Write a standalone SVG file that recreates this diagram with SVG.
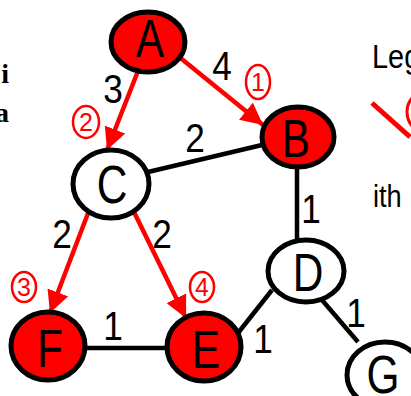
<svg xmlns="http://www.w3.org/2000/svg" width="411" height="396" viewBox="0 0 411 396">
<defs>
<style>
.node{stroke:#000;stroke-width:5}
.red{fill:#ff0000}
.white{fill:#fff}
.lbl{font-family:"Liberation Sans",Arial,sans-serif;font-size:53px;fill:#000;text-anchor:middle}
.w{font-family:"Liberation Sans",Arial,sans-serif;font-size:40px;fill:#000;text-anchor:middle}
.cn{font-family:"Liberation Sans",Arial,sans-serif;font-size:25px;fill:#ff0000;text-anchor:middle}
.ce{fill:#fff;stroke:#ff0000;stroke-width:2.5}
.er{stroke:#ff0000;stroke-width:4.5;fill:none}
.eb{stroke:#000;stroke-width:4.5;fill:none}
.side{font-family:"Liberation Serif","Times New Roman",serif;font-weight:bold;font-size:28px;fill:#000;text-anchor:end}
</style>
<marker id="ah" viewBox="0 0 20 20" refX="20" refY="10" markerWidth="22" markerHeight="22" markerUnits="userSpaceOnUse" orient="auto">
<path d="M0,0 L20,10 L0,20 z" fill="#ff0000"/>
</marker>
</defs>
<rect width="411" height="396" fill="#fff"/>
<g id="side-text">
<text class="side" x="9" y="83">i</text>
<text class="side" x="9" y="122">a</text>
</g>
<g id="connectors">
<line class="eb" x1="148" y1="172" x2="262" y2="145"/>
<line class="eb" x1="297" y1="167" x2="297" y2="240"/>
<line class="eb" x1="272" y1="290" x2="238" y2="333"/>
<line class="eb" x1="322" y1="300" x2="358" y2="342"/>
<line class="eb" x1="85" y1="348" x2="167" y2="348"/>
<line class="er" x1="138" y1="71" x2="107" y2="150" marker-end="url(#ah)"/>
<line class="er" x1="178" y1="56" x2="263" y2="125" marker-end="url(#ah)"/>
<line class="er" x1="90" y1="208" x2="50" y2="313" marker-end="url(#ah)"/>
<line class="er" x1="133" y1="210" x2="186" y2="318" marker-end="url(#ah)"/>
</g>
<g id="weights">
<text class="w" transform="translate(113,103) scale(0.88,1)">3</text>
<text class="w" transform="translate(222,80) scale(0.88,1)">4</text>
<text class="w" transform="translate(195,152) scale(0.88,1)">2</text>
<text class="w" transform="translate(62,248) scale(0.88,1)">2</text>
<text class="w" transform="translate(162,248) scale(0.88,1)">2</text>
<text class="w" transform="translate(113,340) scale(0.88,1)">1</text>
<text class="w" transform="translate(311,223) scale(0.88,1)">1</text>
<text class="w" transform="translate(356,327) scale(0.88,1)">1</text>
<text class="w" transform="translate(263,353) scale(0.88,1)">1</text>
</g>
<g id="order-marks">
<ellipse class="ce" cx="258" cy="82" rx="12" ry="17"/>
<text class="cn" x="258" y="91">1</text>
<ellipse class="ce" cx="86" cy="122" rx="13" ry="16"/>
<text class="cn" x="86" y="131">2</text>
<ellipse class="ce" cx="24" cy="287" rx="12" ry="15"/>
<text class="cn" x="24" y="296">3</text>
<ellipse class="ce" cx="202" cy="287" rx="12" ry="15"/>
<text class="cn" x="202" y="296">4</text>
</g>
<g id="A"><ellipse class="node red" cx="148" cy="42" rx="37" ry="30"/><text class="lbl" transform="translate(150,57) scale(0.8,1)">A</text></g>
<g id="B"><ellipse class="node red" cx="298" cy="137" rx="36" ry="30"/><text class="lbl" transform="translate(296,157) scale(0.8,1)">B</text></g>
<g id="C"><ellipse class="node white" cx="111" cy="184" rx="38" ry="34"/><text class="lbl" transform="translate(112,203) scale(0.8,1)">C</text></g>
<g id="D"><ellipse class="node white" cx="306" cy="271" rx="38" ry="31"/><text class="lbl" transform="translate(308,291) scale(0.8,1)">D</text></g>
<g id="E"><ellipse class="node red" cx="204" cy="347" rx="37" ry="34"/><text class="lbl" transform="translate(206,368) scale(0.8,1)">E</text></g>
<g id="F"><ellipse class="node red" cx="48" cy="346" rx="37" ry="34"/><text class="lbl" transform="translate(50,367) scale(0.8,1)">F</text></g>
<g id="G"><ellipse class="node white" cx="385" cy="375" rx="38" ry="33"/><text class="lbl" transform="translate(383,393) scale(0.8,1)">G</text></g>
<g id="legend">
<text transform="translate(372,68) scale(0.85,1)" font-family="Liberation Sans,Arial,sans-serif" font-size="34">Leg</text>
<line x1="372" y1="103" x2="410" y2="137" stroke="#ff0000" stroke-width="5"/>
<ellipse cx="421" cy="112" rx="14" ry="18" fill="#fff" stroke="#ff0000" stroke-width="3"/>
<text transform="translate(373,207) scale(0.85,1)" font-family="Liberation Sans,Arial,sans-serif" font-size="32">ith</text>
</g>
</svg>
